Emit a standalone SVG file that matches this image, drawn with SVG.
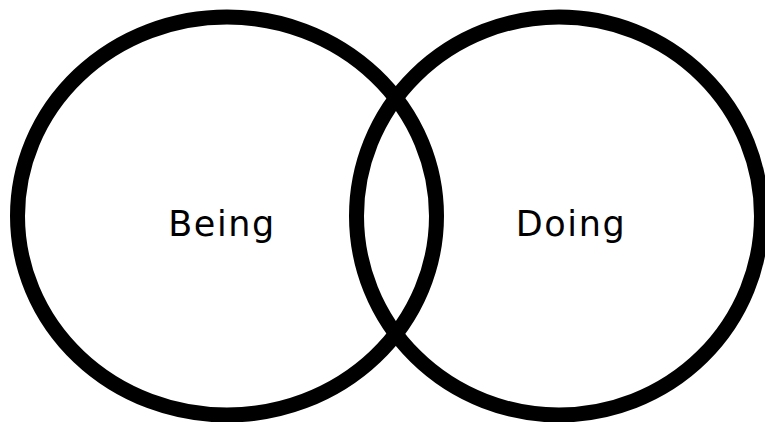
<svg xmlns="http://www.w3.org/2000/svg" width="765" height="422" viewBox="0 0 765 422">
<style>
.ring{fill:none;stroke:#000;stroke-width:15}
.lbl{font-family:"DejaVu Sans","Liberation Sans",sans-serif;font-size:35px;letter-spacing:1.6px;fill:#000;text-anchor:middle}
</style>
<rect width="765" height="422" fill="#fff"/>
<g id="being">
<ellipse class="ring" cx="227" cy="216" rx="209.5" ry="199"/>
<text class="lbl" x="222" y="236">Being</text>
</g>
<g id="doing">
<ellipse class="ring" cx="559" cy="216" rx="202.5" ry="199"/>
<text class="lbl" x="571" y="236">Doing</text>
</g>
<g id="connectors"></g>
</svg>
